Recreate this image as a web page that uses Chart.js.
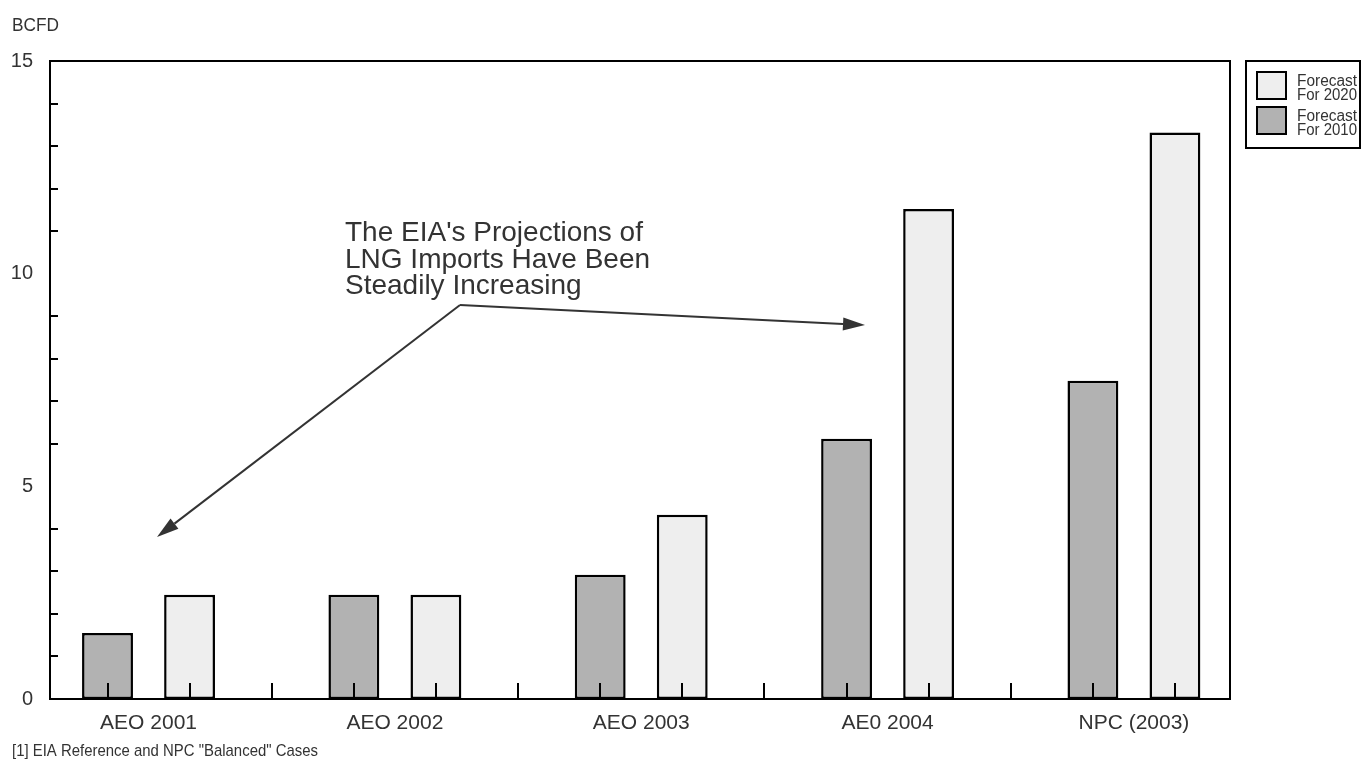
<!DOCTYPE html>
<html>
<head>
<meta charset="utf-8">
<script src="https://cdn.jsdelivr.net/npm/chart.js@4.4.0/dist/chart.umd.min.js"></script>
<style>
  html, body { margin: 0; padding: 0; background: #fff; }
  #wrap { width: 1361px; height: 761px; position: relative; }
</style>
</head>
<body>
<div id="wrap"><canvas id="myChart"></canvas></div>
<script>
// Chart data (BCFD)
var categories = ["AEO 2001", "AEO 2002", "AEO 2003", "AE0 2004", "NPC (2003)"];
var forecast2010 = [1.55, 2.45, 2.92, 6.12, 7.48];
var forecast2020 = [2.45, 2.45, 4.33, 11.52, 13.32];
var yTicks = [0, 5, 10, 15];
var legendLines = {
  "Forecast For 2020": ["Forecast", "For 2020"],
  "Forecast For 2010": ["Forecast", "For 2010"]
};
var noteLines = ["The EIA's Projections of", "LNG Imports Have Been", "Steadily Increasing"];
var footnote = '[1] EIA Reference and NPC "Balanced" Cases';

var FONT = '"Liberation Sans", Arial, sans-serif';
var TEXT = "#333333";

function toPoints(values) {
  return values.map(function (v, i) { return { x: i, y: v }; });
}

// frame + inward tick marks
var framePlugin = {
  id: "frame",
  beforeDatasetsDraw: function (chart) {
    var a = chart.chartArea, c = chart.ctx;
    c.save();
    c.strokeStyle = "#000";
    c.lineWidth = 2;
    c.strokeRect(a.left, a.top, a.right - a.left, a.bottom - a.top);
    // minor ticks on y axis
    var ys = chart.scales.y;
    for (var v = 1; v < 15; v++) {
      if (v % 5 === 0) continue;
      var py = Math.round(ys.getPixelForValue(v));
      c.beginPath();
      c.moveTo(a.left, py);
      c.lineTo(a.left + 8, py);
      c.stroke();
    }
    c.restore();
  },
  afterDatasetsDraw: function (chart) {
    var a = chart.chartArea, c = chart.ctx;
    var xs = chart.scales.x;
    var px = [];
    chart.data.datasets.forEach(function (ds, di) {
      chart.getDatasetMeta(di).data.forEach(function (bar) { px.push(bar.x); });
    });
    for (var i = 0; i < categories.length - 1; i++) {
      px.push(xs.getPixelForValue(i + 0.5));
    }
    c.save();
    c.strokeStyle = "#000";
    c.lineWidth = 2;
    px.forEach(function (x) {
      x = Math.round(x);
      c.beginPath();
      c.moveTo(x, a.bottom);
      c.lineTo(x, a.bottom - 16);
      c.stroke();
    });
    c.restore();
  }
};

function arrow(c, x1, y1, x2, y2) {
  var ang = Math.atan2(y2 - y1, x2 - x1);
  var len = 22, half = 6.5;
  var bx = x2 - len * Math.cos(ang), by = y2 - len * Math.sin(ang);
  c.beginPath();
  c.moveTo(x1, y1);
  c.lineTo(bx, by);
  c.stroke();
  c.beginPath();
  c.moveTo(x2, y2);
  c.lineTo(bx + half * Math.sin(ang), by - half * Math.cos(ang));
  c.lineTo(bx - half * Math.sin(ang), by + half * Math.cos(ang));
  c.closePath();
  c.fill();
}

// texts, arrows and legend
var notesPlugin = {
  id: "notes",
  afterDraw: function (chart) {
    var c = chart.ctx, a = chart.chartArea;
    c.save();
    c.fillStyle = TEXT;
    c.textBaseline = "alphabetic";
    c.textAlign = "left";

    c.font = "19px " + FONT;
    c.fillText("BCFD", 12, 31, 47);

    c.font = "17px " + FONT;
    c.fillText(footnote, 12, 756, 306);

    c.font = "28px " + FONT;
    noteLines.forEach(function (t, i) {
      c.fillText(t, 345, 241 + i * 26.5);
    });

    c.strokeStyle = "#333";
    c.fillStyle = "#333";
    c.lineWidth = 2;
    arrow(c, 460, 305, 157, 537);
    arrow(c, 460, 305, 865, 325);

    // legend box
    var lx = a.right + 16, ly = a.top;
    c.strokeStyle = "#000";
    c.lineWidth = 2;
    c.strokeRect(lx, ly, 114, 87);
    var items = chart.data.datasets.slice().reverse();
    items.forEach(function (ds, i) {
      var sy = ly + 11 + i * 35;
      c.fillStyle = ds.backgroundColor;
      c.fillRect(lx + 11, sy, 29, 27);
      c.strokeRect(lx + 11, sy, 29, 27);
      c.fillStyle = TEXT;
      c.font = "16px " + FONT;
      var lines = legendLines[ds.label];
      c.fillText(lines[0], lx + 51, sy + 14, 60);
      c.fillText(lines[1], lx + 51, sy + 28, 60);
    });
    c.restore();
  }
};

var ctx = document.getElementById("myChart").getContext("2d");
var chart = new Chart(ctx, {
  type: "bar",
  data: {
    datasets: [
      {
        label: "Forecast For 2010",
        data: toPoints(forecast2010),
        backgroundColor: "#b2b2b2",
        borderColor: "#000",
        borderWidth: 2.5,
        borderSkipped: false,
        categoryPercentage: 0.666,
        barPercentage: 0.62
      },
      {
        label: "Forecast For 2020",
        data: toPoints(forecast2020),
        backgroundColor: "#eeeeee",
        borderColor: "#000",
        borderWidth: 2.5,
        borderSkipped: false,
        categoryPercentage: 0.666,
        barPercentage: 0.62
      }
    ]
  },
  options: {
    responsive: true,
    maintainAspectRatio: false,
    animation: false,
    layout: { padding: { top: 61, right: 131, left: 0, bottom: 0 } },
    plugins: {
      legend: { display: false },
      tooltip: { enabled: false }
    },
    scales: {
      x: {
        type: "linear",
        min: -0.4,
        max: 4.39,
        offset: false,
        grid: { display: false, drawTicks: false, offset: false },
        border: { display: false },
        afterBuildTicks: function (s) {
          s.ticks = categories.map(function (c, i) { return { value: i }; });
        },
        afterFit: function (s) { s.height = 62; },
        ticks: {
          autoSkip: false,
          maxRotation: 0,
          padding: 12,
          color: TEXT,
          font: { family: FONT, size: 21 },
          callback: function (v) { return categories[v]; }
        }
      },
      y: {
        min: 0,
        max: 15,
        grid: { display: false, drawTicks: false },
        border: { display: false },
        afterBuildTicks: function (s) {
          s.ticks = yTicks.map(function (v) { return { value: v }; });
        },
        afterFit: function (s) { s.width = 50; },
        ticks: {
          padding: 17,
          color: TEXT,
          font: { family: FONT, size: 20 }
        }
      }
    }
  },
  plugins: [framePlugin, notesPlugin]
});
</script>
</body>
</html>
